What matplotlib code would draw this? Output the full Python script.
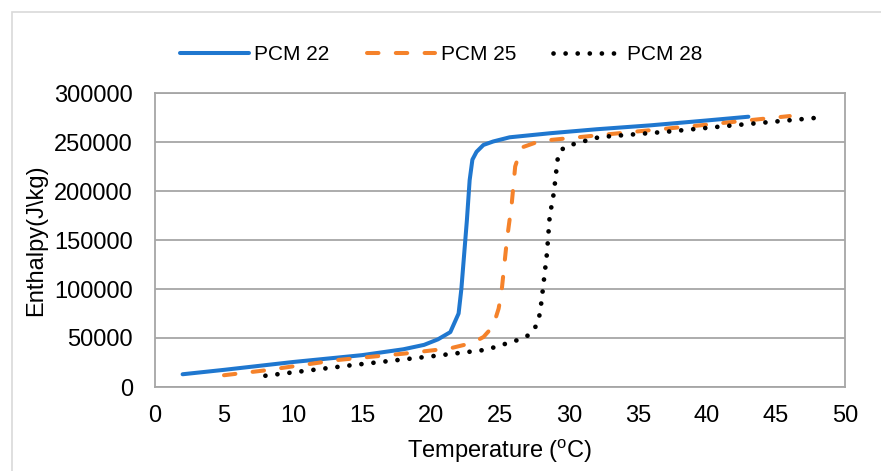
#!/usr/bin/env python3

import matplotlib.pyplot as plt
from matplotlib.patches import Rectangle

plt.rcParams['font.family'] = ['Liberation Sans', 'DejaVu Sans']
plt.rcParams['mathtext.fontset'] = 'custom'
plt.rcParams['mathtext.rm'] = 'Liberation Sans'

# PCM 22
t22 = [2, 5, 10, 15, 18, 19.5, 20.5, 21.4, 22.0, 22.2, 22.6, 22.8, 23.0, 23.3,
       23.8, 24.5, 25.7, 28.6, 32, 35.9, 40, 43]
h22 = [13000, 17500, 25500, 32500, 38500, 43000, 48600, 56000, 75000, 100000,
       170000, 211000, 232000, 240000, 247000, 250500, 254800, 258900, 263000,
       267000, 272000, 275800]

# PCM 25
t25 = [5, 8, 13.2, 18, 21.4, 23, 23.8, 24.5, 24.9, 25.1, 25.5, 25.85, 26.1,
       26.4, 26.7, 27.9, 32.2, 39.5, 46]
h25 = [12000, 17000, 27500, 34000, 39500, 45000, 51000, 62000, 80000, 95600,
       150000, 187000, 225000, 238000, 245000, 251000, 257000, 267000, 276500]

# PCM 28
t28 = [8, 14.1, 20.2, 24, 26.3, 27.1, 27.6, 27.9, 28.1, 28.4, 28.6, 28.9, 29.1,
       29.2, 29.4, 29.7, 30.6, 32.2, 37.1, 41.9, 48.2]
h28 = [11500, 22000, 31600, 38000, 48000, 53000, 62000, 75000, 99000, 136000,
       174000, 198000, 223000, 235000, 241000, 245000, 249000, 255000, 260500,
       267000, 275000]

xticks = list(range(0, 51, 5))
yticks = list(range(0, 300001, 50000))

fig = plt.figure(figsize=(8.81, 4.71), dpi=100)
# light outer chart frame (only top/left visible in the crop)
fig.patches.append(Rectangle((12/881, -0.1), 1.2, 1 - 12/471 + 0.1,
                             transform=fig.transFigure, fill=False,
                             edgecolor='#d9d9d9', lw=1.2))

ax = fig.add_axes([155/881, 1 - 387/471, 690/881, 294/471])
ax.plot(t22, h22, color='#1F77CF', lw=2.9, solid_capstyle='round', label='PCM 22')
ax.plot(t25, h25, color='#F5822A', lw=2.9, dashes=(2.85, 4.3),
        dash_capstyle='round', label='PCM 25')
ax.plot(t28, h28, color='black', lw=3.4, linestyle=(0, (0.01, 2.55)),
        dash_capstyle='round', label='PCM 28')

ax.set_xlim(0, 50)
ax.set_ylim(0, 300000)
ax.set_xticks(xticks)
ax.set_yticks(yticks)
ax.tick_params(length=0, labelsize=17, colors='black')
ax.tick_params(axis='y', pad=16)
ax.tick_params(axis='x', pad=13)
ax.grid(axis='y', color='#a6a6a6', lw=1.3)
ax.set_axisbelow(True)
for s in ax.spines.values():
    s.set_color('#a6a6a6')
    s.set_linewidth(1.3)

ax.set_xlabel(r'Temperature ($\mathrm{^{o}}$C)', fontsize=17, labelpad=8)
ax.set_ylabel(r'Enthalpy(J\kg)', fontsize=17, labelpad=5)

ax.legend(loc='lower center', bbox_to_anchor=(0.415, 1.035), ncol=3, frameon=False,
          fontsize=15, handlelength=3.3, handletextpad=0.25, columnspacing=1.8)

plt.savefig('out.png')
